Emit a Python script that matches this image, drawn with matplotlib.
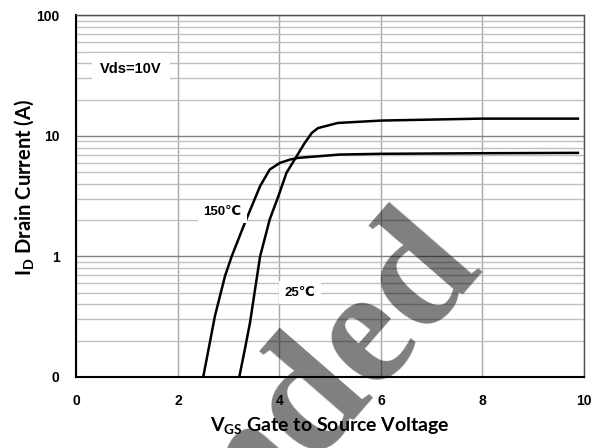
import matplotlib
matplotlib.use("Agg")
import matplotlib.pyplot as plt
from matplotlib.ticker import FixedLocator, NullFormatter

# ---- data ----
vgs_150 = [2.50, 2.73, 2.93, 3.06, 3.32, 3.62, 3.81, 4.01, 4.21, 4.37, 5.19, 6.00, 8.00, 9.88]
id_150 = [0.10, 0.32, 0.69, 1.00, 1.90, 3.83, 5.26, 5.97, 6.36, 6.57, 7.00, 7.10, 7.18, 7.23]

vgs_25 = [3.21, 3.32, 3.42, 3.52, 3.62, 3.81, 3.98, 4.14, 4.34, 4.50, 4.64, 4.76, 4.86, 5.15, 6.01, 7.97, 9.88]
id_25 = [0.10, 0.17, 0.28, 0.53, 1.00, 2.03, 3.16, 4.94, 6.78, 8.75, 10.6, 11.6, 11.9, 12.8, 13.4, 13.9, 13.9]

x_ticks = [0, 2, 4, 6, 8, 10]
y_ticks = [0.1, 1, 10, 100]
y_ticklabels = ["0", "1", "10", "100"]

fig = plt.figure(figsize=(5.98, 4.48), dpi=100)
ax = fig.add_axes([0.1276, 0.1585, 0.9766 - 0.1276, 0.9658 - 0.1585])
ax.set_yscale("log")
ax.set_xlim(0, 10)
ax.set_ylim(0.1, 100)

ax.set_xticks(x_ticks)
ax.set_xticklabels([str(v) for v in x_ticks], fontsize=10, fontweight="bold", family="Liberation Sans")
ax.set_yticks(y_ticks)
ax.set_yticklabels(y_ticklabels, fontsize=10, fontweight="bold", family="Liberation Sans")
minors = [m * 10.0 ** e for e in (-1, 0, 1) for m in range(2, 10)]
ax.yaxis.set_minor_locator(FixedLocator(minors))
ax.yaxis.set_minor_formatter(NullFormatter())
ax.tick_params(axis="both", which="both", length=0)
ax.tick_params(axis="x", pad=12)
ax.tick_params(axis="y", pad=12)

ax.grid(True, axis="x", which="major", color="#a8a8a8", lw=1.0, zorder=0)
ax.grid(True, axis="y", which="major", color="#808080", lw=1.0, zorder=0)
ax.grid(True, axis="y", which="minor", color="#c0c0c0", lw=1.0, zorder=0)
ax.set_axisbelow(True)

for s in ("left", "bottom"):
    ax.spines[s].set_color("black")
    ax.spines[s].set_linewidth(1.5)
for s in ("top", "right"):
    ax.spines[s].set_color("#505050")
    ax.spines[s].set_linewidth(1.0)

ax.plot(vgs_150, id_150, color="black", lw=1.8, zorder=3)
ax.plot(vgs_25, id_25, color="black", lw=1.8, zorder=3)

box = dict(facecolor="white", edgecolor="none", pad=4)
ax.text(0.47, 36, "Vds=10V", fontsize=10.5, fontweight="bold", family="Liberation Sans",
        va="center", ha="left", bbox=dict(facecolor="white", edgecolor="none", pad=6), zorder=4)
ax.text(2.5, 2.35, "150\u2103", fontsize=9.5, fontweight="bold", family=["Liberation Sans", "DejaVu Sans"],
        va="center", ha="left", bbox=box, zorder=4)
ax.text(4.1, 0.5, "25\u2103", fontsize=9.5, fontweight="bold", family=["Liberation Sans", "DejaVu Sans"],
        va="center", ha="left", bbox=box, zorder=4)

ax.set_xlabel("V$_{\\mathregular{GS}}$ Gate to Source Voltage", fontsize=14, fontweight="bold",
              family="Lato", labelpad=6)
ax.set_ylabel("I$_{\\mathregular{D}}$ Drain Current (A)", fontsize=14.5, fontweight="bold",
              family="Lato", labelpad=0)
ax.yaxis.set_label_coords(-0.08, 0.525)

# semi-transparent watermark on top
fig.text(0.614, 0.109, "nded", fontsize=120, fontweight="bold", family="Liberation Serif",
         color="black", alpha=0.5, rotation=49, ha="center", va="baseline",
         rotation_mode="anchor", zorder=10)

fig.savefig("out.png", dpi=100)
